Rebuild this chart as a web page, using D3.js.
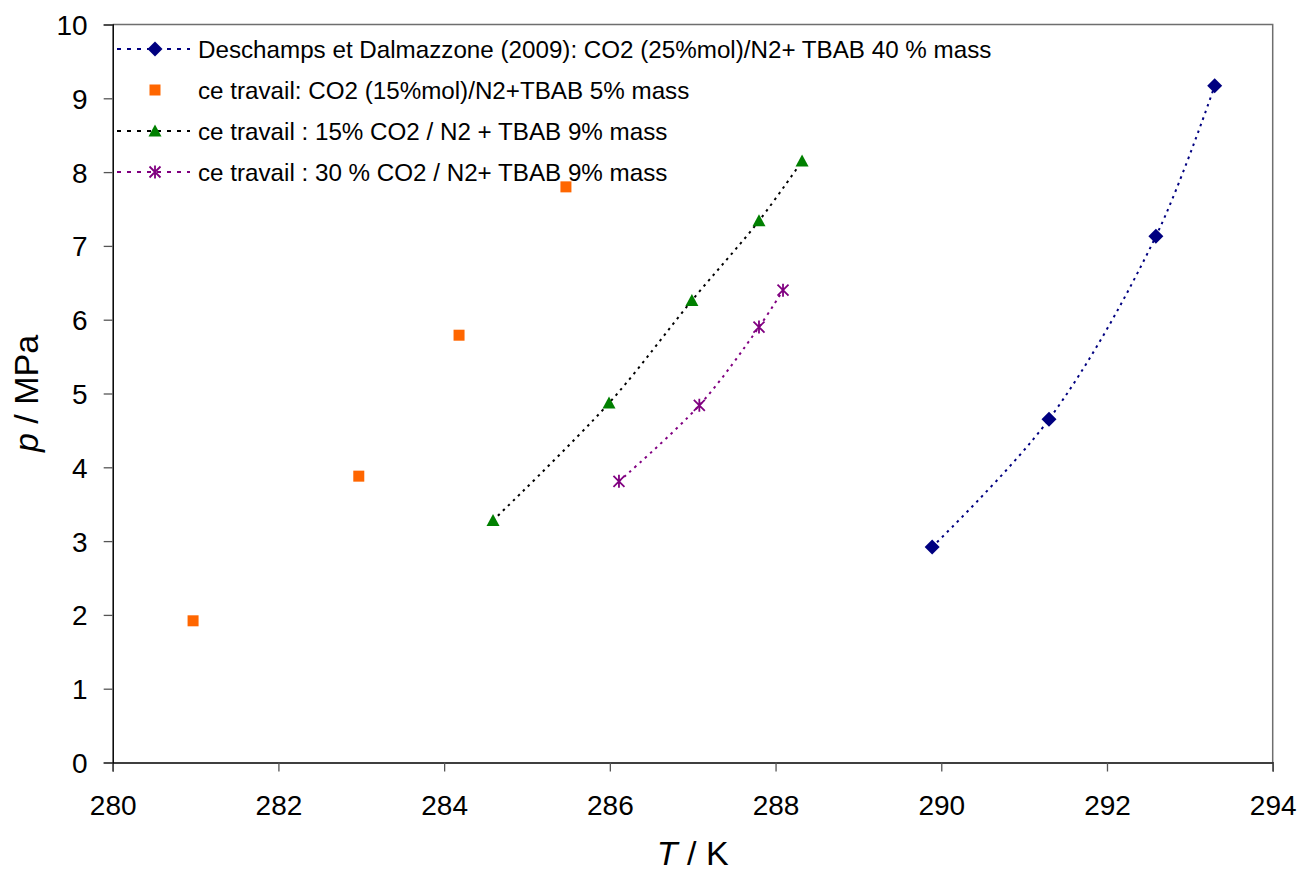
<!DOCTYPE html>
<html>
<head>
<meta charset="utf-8">
<script src="https://cdn.jsdelivr.net/npm/d3@7"></script>
<style>
html,body{margin:0;padding:0;background:#fff;}
svg{display:block;font-family:"Liberation Sans",Arial,Helvetica,sans-serif;}
</style>
</head>
<body>
<svg id="chart" width="1301" height="872"></svg>
<script>
// ---- data ----
const xTicks = [280, 282, 284, 286, 288, 290, 292, 294];
const yTicks = [0, 1, 2, 3, 4, 5, 6, 7, 8, 9, 10];

const deschampsT = [289.89, 291.30, 292.59, 293.30];
const deschampsP = [2.92, 4.65, 7.13, 9.17];

const tbab5T = [280.97, 282.97, 284.18, 285.47];
const tbab5P = [1.92, 3.88, 5.79, 7.80];

const co2_15T = [284.59, 285.99, 286.99, 287.80, 288.32];
const co2_15P = [3.28, 4.87, 6.26, 7.34, 8.15];

const co2_30T = [286.11, 287.08, 287.80, 288.09];
const co2_30P = [3.81, 4.84, 5.90, 6.40];

const seriesNames = [
  "Deschamps et Dalmazzone (2009): CO2 (25%mol)/N2+ TBAB 40 % mass",
  "ce travail: CO2 (15%mol)/N2+TBAB 5% mass",
  "ce travail : 15% CO2 / N2 + TBAB 9% mass",
  "ce travail : 30 % CO2 / N2+ TBAB 9% mass"
];

(function () {
// ---- layout ----
const svg = d3.select("#chart");
const pL = 112.7, pR = 1272.7, pT = 24.5, pB = 762.5;

const x = d3.scaleLinear().domain([280, 294]).range([pL, pR]);
const y = d3.scaleLinear().domain([0, 10]).range([pB, pT]);

// plot frame (top/right)
svg.append("path")
  .attr("d", `M${pL},${pT}H${pR}V${pB}`)
  .attr("fill", "none").attr("stroke", "#6e6e6e").attr("stroke-width", 1.5);

// axes
const gx = svg.append("g").attr("transform", `translate(0,${pB})`)
  .call(d3.axisBottom(x).tickValues(xTicks).tickSize(9).tickPadding(24).tickFormat(d3.format("d")));
const gy = svg.append("g").attr("transform", `translate(${pL},0)`)
  .call(d3.axisLeft(y).tickValues(yTicks).tickSize(9).tickPadding(16).tickFormat(d3.format("d")));

[gx, gy].forEach(g => {
  g.select(".domain").attr("stroke", "#000").attr("stroke-width", 1.5);
  g.selectAll(".tick line").attr("stroke", "#555").attr("stroke-width", 1.3);
  g.selectAll(".tick text").attr("fill", "#000")
    .style("font-size", "28px").style("font-family", "'Liberation Sans',Arial,sans-serif");
});
gy.selectAll(".tick text").attr("dy", "0.36em");

// axis titles
const xt = svg.append("text").attr("x", (pL + pR) / 2).attr("y", 865)
  .attr("text-anchor", "middle").style("font-size", "34px");
xt.append("tspan").style("font-style", "italic").text("T");
xt.append("tspan").text(" / K");

const yt = svg.append("text")
  .attr("transform", `translate(38,${(pT + pB) / 2}) rotate(-90)`)
  .attr("text-anchor", "middle").style("font-size", "34px");
yt.append("tspan").style("font-style", "italic").text("p");
yt.append("tspan").text(" / MPa");

// ---- series ----
const zip = (a, b) => a.map((v, i) => [v, b[i]]);
const lineGen = d3.line().x(d => x(d[0])).y(d => y(d[1])).curve(d3.curveCatmullRom.alpha(0.5));

const series = [
  {pts: zip(deschampsT, deschampsP), line: "#000080", marker: "diamond", fill: "#000080"},
  {pts: zip(tbab5T, tbab5P), line: null, marker: "square", fill: "#FF6600"},
  {pts: zip(co2_15T, co2_15P), line: "#000000", marker: "triangle", fill: "#008000"},
  {pts: zip(co2_30T, co2_30P), line: "#800080", marker: "star", fill: "#800080"}
];

function drawMarker(g, type, color, cx, cy) {
  if (type === "diamond") {
    g.append("path").attr("d", `M${cx},${cy-7.5}L${cx+7.5},${cy}L${cx},${cy+7.5}L${cx-7.5},${cy}Z`).attr("fill", color);
  } else if (type === "square") {
    g.append("rect").attr("x", cx - 5.5).attr("y", cy - 5.5).attr("width", 11).attr("height", 11).attr("fill", color);
  } else if (type === "triangle") {
    g.append("path").attr("d", `M${cx},${cy-6.5}L${cx+6.5},${cy+5.5}L${cx-6.5},${cy+5.5}Z`).attr("fill", color);
  } else if (type === "star") {
    g.append("path").attr("d", `M${cx-5.5},${cy-5.5}L${cx+5.5},${cy+5.5}M${cx+5.5},${cy-5.5}L${cx-5.5},${cy+5.5}M${cx},${cy-6.5}V${cy+6.5}`)
      .attr("stroke", color).attr("stroke-width", 1.8).attr("fill", "none");
  }
}

series.forEach(s => {
  if (s.line) {
    svg.append("path").datum(s.pts).attr("d", lineGen)
      .attr("fill", "none").attr("stroke", s.line).attr("stroke-width", 2)
      .attr("stroke-dasharray", "2.5,4.5");
  }
  const g = svg.append("g");
  s.pts.forEach(p => drawMarker(g, s.marker, s.fill, x(p[0]), y(p[1])));
});

// ---- legend ----
const legY = [49, 90, 131, 172];
series.forEach((s, i) => {
  const g = svg.append("g");
  const cy = legY[i];
  if (s.line) {
    g.append("line").attr("x1", 117).attr("x2", 190).attr("y1", cy).attr("y2", cy)
      .attr("stroke", s.line).attr("stroke-width", 2).attr("stroke-dasharray", "4,6");
  }
  drawMarker(g, s.marker, s.fill, 155, cy);
  g.append("text").attr("x", 198).attr("y", cy).attr("dy", "0.36em")
    .style("font-size", "24.2px").attr("fill", "#000").text(seriesNames[i]);
});
})();
</script>
</body>
</html>
